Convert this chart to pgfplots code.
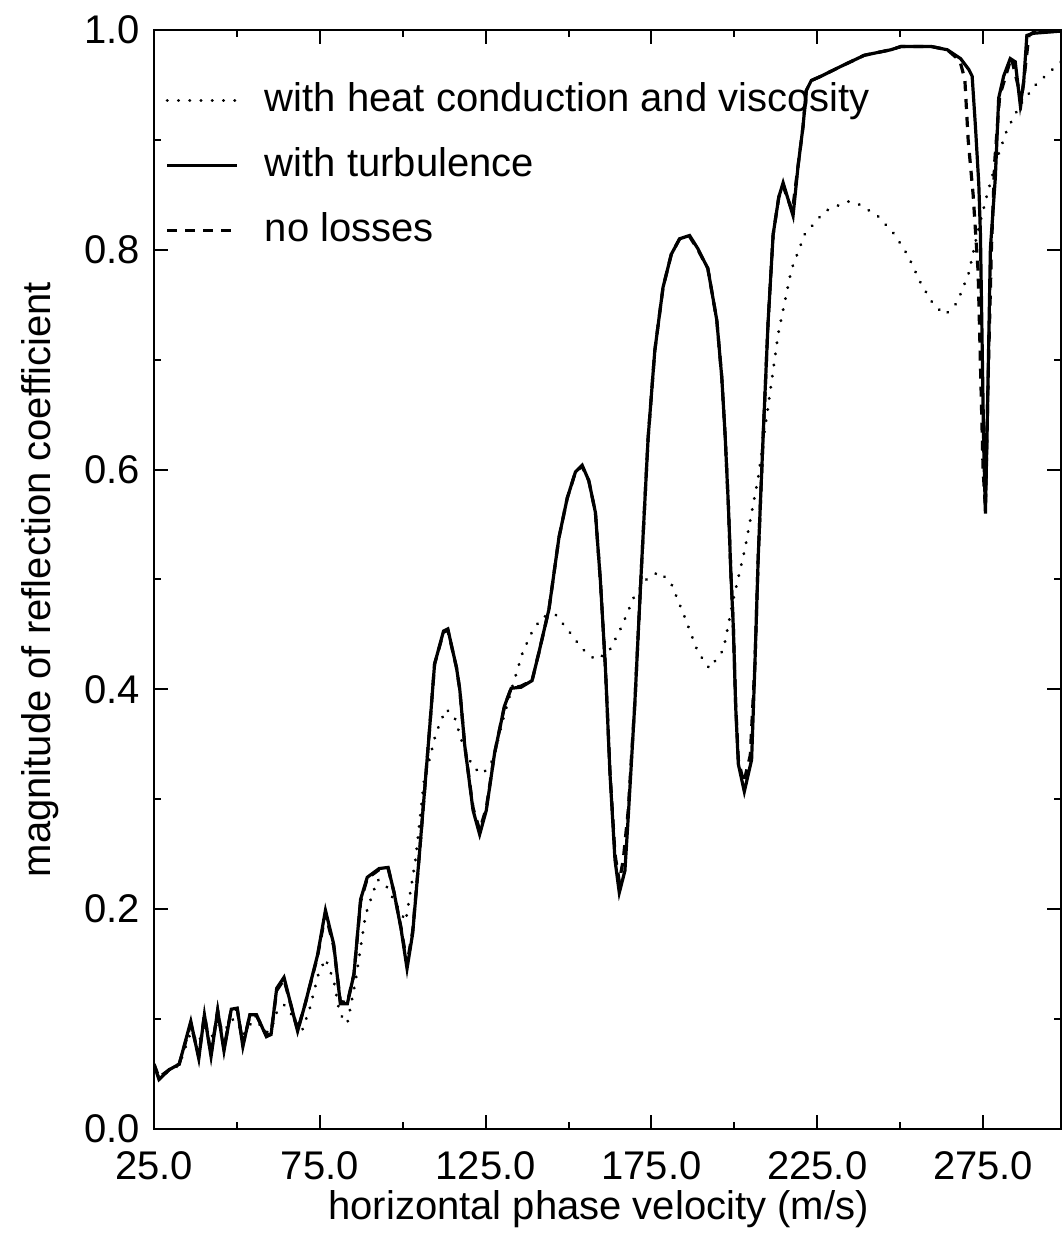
\documentclass[border=0pt]{standalone}
\usepackage{fontspec}
\setmainfont{Liberation Sans}
\usepackage{pgfplots}
\pgfplotsset{compat=1.18}

\begin{document}
\begin{tikzpicture}
\begin{axis}[
  scale only axis,
  width=226.75pt, height=274.75pt,
  xmin=25, xmax=298.5, ymin=0, ymax=1,
  axis line style={line width=0.5pt},
  tick style={line width=0.5pt, black},
  tick align=inside,
  major tick length=3.5pt, minor tick length=1.8pt,
  xtick={25,75,125,175,225,275},
  minor xtick={50,100,150,200,250,300},
  ytick={0,0.2,0.4,0.6,0.8,1.0},
  minor ytick={0.1,0.3,0.5,0.7,0.9},
  xticklabel style={yshift=-2pt, /pgf/number format/.cd, fixed, fixed zerofill, precision=1, assume math mode=true},
  yticklabel style={/pgf/number format/.cd, fixed, fixed zerofill, precision=1, assume math mode=true},
  ticklabel style={font=\fontsize{10}{12}\selectfont},
  label style={font=\fontsize{10}{12}\selectfont},
  xlabel={horizontal phase velocity (m/s)},
  ylabel={magnitude of reflection coefficient},
  xlabel style={at={(axis description cs:0.49,-0.0725)}, anchor=center},
  ylabel style={at={(axis description cs:-0.1257,0.5)}, anchor=center},
  legend style={at={(axis description cs:0.012,0.96)}, anchor=north west,
    draw=none, fill=none, font=\fontsize{10}{12}\selectfont, row sep=3.5pt,
    inner sep=0pt, /tikz/every odd column/.append style={column sep=4.5pt}},
  legend cell align=left,
  legend image code/.code={\draw[#1] (0pt,0pt) -- (17.5pt,0pt);},
]
% with heat conduction and viscosity (dotted)
\addplot[black, line width=0.8pt, line cap=round, dash pattern=on 0.01pt off 2.8pt] coordinates {
(25.0,0.058) (26.5,0.047) (29.6,0.053) (32.6,0.058) (36.1,0.088) (38.5,0.078)
(40.2,0.095) (42.2,0.082) (44.2,0.098) (46.1,0.088) (48.3,0.100) (50.1,0.098)
(51.8,0.085) (53.9,0.095) (55.9,0.098) (58.9,0.088) (60.3,0.090) (62.0,0.106)
(64.2,0.113) (66.5,0.104) (69.6,0.089) (72.0,0.110) (74.5,0.140) (76.7,0.155)
(79.2,0.135) (81.0,0.105) (83.3,0.096) (85.8,0.135) (88.8,0.195) (92.4,0.227)
(94.9,0.222) (97.9,0.205) (100.9,0.189) (103.9,0.246) (106.4,0.316) (110.0,0.360)
(113.0,0.382) (115.5,0.376) (118.2,0.349) (121.2,0.329) (124.2,0.323) (127.2,0.336)
(130.2,0.372) (133.2,0.404) (136.2,0.434) (139.1,0.453) (142.1,0.466) (146.1,0.468)
(150.1,0.453) (154.1,0.437) (158.1,0.427) (162.1,0.434) (166.0,0.457) (170.0,0.486)
(174.0,0.502) (177.5,0.507) (181.0,0.496) (185.0,0.466) (189.0,0.434) (192.5,0.419)
(196.7,0.436) (199.7,0.482) (203.2,0.528) (207.2,0.593) (210.2,0.658) (213.2,0.723)
(217.2,0.782) (221.2,0.814) (227.2,0.835) (234.2,0.844) (237.2,0.842) (243.2,0.831)
(248.3,0.814) (252.3,0.795) (256.3,0.769) (260.3,0.749) (263.7,0.741) (267.2,0.752)
(270.7,0.779) (273.2,0.814) (276.2,0.850) (279.2,0.883) (282.2,0.909) (286.2,0.932)
(291.1,0.951) (298.5,0.971)
};
\addlegendentry{with heat conduction and viscosity}
% with turbulence (solid)
\addplot[black, line width=0.8pt] coordinates {
(25.0,0.059) (26.5,0.045) (29.6,0.054) (32.6,0.059) (36.1,0.098) (38.5,0.064)
(40.2,0.104) (42.2,0.066) (44.2,0.108) (46.1,0.071) (48.3,0.109) (50.1,0.110)
(51.8,0.075) (53.9,0.104) (55.9,0.104) (58.9,0.084) (60.3,0.086) (62.0,0.128)
(64.2,0.138) (68.3,0.089) (70.6,0.114) (74.3,0.158) (76.7,0.199) (79.2,0.168)
(81.2,0.114) (83.3,0.114) (85.3,0.141) (87.3,0.209) (89.3,0.229) (92.9,0.237)
(95.6,0.238) (97.4,0.215) (99.5,0.182) (101.3,0.146) (103.0,0.178) (105.0,0.249)
(108.1,0.364) (109.6,0.423) (112.3,0.453) (113.6,0.455) (116.2,0.420) (117.2,0.400)
(118.7,0.349) (121.2,0.290) (123.2,0.268) (125.2,0.290) (127.7,0.342) (130.7,0.385)
(132.7,0.401) (135.7,0.402) (139.0,0.408) (141.1,0.434) (144.1,0.473) (147.1,0.538)
(149.6,0.574) (152.1,0.598) (154.1,0.604) (156.1,0.590) (158.1,0.561) (159.6,0.499)
(161.1,0.421) (162.5,0.323) (164.0,0.245) (165.3,0.215) (167.0,0.235) (168.0,0.284)
(170.0,0.388) (172.0,0.512) (174.0,0.629) (176.0,0.708) (178.5,0.766) (181.0,0.796)
(183.5,0.810) (186.5,0.813) (189.0,0.801) (192.0,0.783) (194.7,0.736) (196.2,0.684)
(197.2,0.632) (198.2,0.567) (199.0,0.502) (199.7,0.456) (200.4,0.384) (201.2,0.332)
(203.0,0.307) (205.2,0.336) (206.2,0.423) (207.2,0.521) (208.7,0.632) (210.2,0.736)
(211.7,0.814) (213.4,0.848) (214.7,0.861) (217.7,0.831) (219.2,0.876) (220.7,0.912)
(221.7,0.945) (223.2,0.954) (226.2,0.958) (232.2,0.967) (239.2,0.977) (247.2,0.982)
(250.3,0.985) (259.3,0.985) (264.2,0.982) (268.2,0.974) (270.7,0.964) (271.7,0.958)
(272.7,0.912) (273.7,0.860) (274.2,0.814) (274.7,0.717) (275.2,0.619) (275.7,0.560)
(276.2,0.632) (277.2,0.801) (278.7,0.866) (279.7,0.938) (281.2,0.958) (283.2,0.974)
(284.7,0.971) (286.2,0.932) (287.2,0.951) (288.2,0.995) (290.2,0.997) (298.5,0.999)
};
\addlegendentry{with turbulence}
% no losses (dashed)
\addplot[black, line width=0.8pt, dash pattern=on 2.5pt off 2pt] coordinates {
(25.0,0.059) (26.5,0.047) (29.6,0.054) (32.6,0.059) (36.1,0.096) (38.5,0.066)
(40.2,0.104) (42.2,0.068) (44.2,0.108) (46.1,0.073) (48.3,0.109) (50.1,0.109)
(51.8,0.077) (53.9,0.103) (55.9,0.103) (58.9,0.085) (60.3,0.087) (62.0,0.126)
(64.2,0.136) (68.3,0.090) (70.6,0.114) (74.3,0.157) (76.7,0.196) (79.2,0.166)
(81.2,0.116) (83.3,0.115) (85.3,0.141) (87.3,0.207) (89.3,0.228) (92.9,0.236)
(95.6,0.237) (97.4,0.215) (99.5,0.183) (101.3,0.150) (103.0,0.180) (105.0,0.249)
(108.1,0.364) (109.6,0.423) (112.3,0.452) (113.6,0.454) (116.2,0.420) (117.2,0.400)
(118.7,0.349) (121.2,0.292) (123.2,0.272) (125.2,0.292) (127.7,0.342) (130.7,0.385)
(132.7,0.401) (135.7,0.403) (139.0,0.408) (141.1,0.434) (144.1,0.473) (147.1,0.538)
(149.6,0.574) (152.1,0.598) (154.1,0.603) (156.1,0.590) (158.1,0.561) (159.6,0.499)
(161.1,0.421) (162.5,0.325) (164.0,0.250) (165.3,0.225) (166.5,0.245) (168.0,0.290)
(170.0,0.388) (172.0,0.512) (174.0,0.629) (176.0,0.708) (178.5,0.766) (181.0,0.796)
(183.5,0.810) (186.5,0.812) (189.0,0.800) (192.0,0.783) (194.7,0.736) (196.2,0.684)
(197.2,0.632) (198.2,0.567) (199.0,0.502) (199.7,0.456) (200.4,0.386) (201.2,0.336)
(202.8,0.315) (204.8,0.340) (206.2,0.423) (207.2,0.521) (208.7,0.632) (210.2,0.736)
(211.7,0.814) (213.4,0.848) (214.7,0.858) (217.5,0.835) (219.2,0.876) (220.7,0.912)
(221.7,0.945) (223.2,0.954) (226.2,0.958) (232.2,0.967) (239.2,0.977) (247.2,0.982)
(250.3,0.985) (259.3,0.985) (264.2,0.982) (268.0,0.972) (269.5,0.955) (270.5,0.900)
(272.0,0.850) (273.5,0.780) (275.0,0.600) (275.7,0.565) (276.5,0.680) (277.5,0.800)
(278.5,0.880) (280.0,0.940) (282.0,0.960) (283.5,0.975) (285.5,0.950) (286.5,0.935)
(287.5,0.960) (288.8,0.995) (290.2,0.998) (298.5,0.999)
};
\addlegendentry{no losses}
\end{axis}
\pgfresetboundingbox
\path ([xshift=-38.5pt,yshift=-27pt]current axis.south west) rectangle ([yshift=7.5pt]current axis.north east);
\end{tikzpicture}
\end{document}
